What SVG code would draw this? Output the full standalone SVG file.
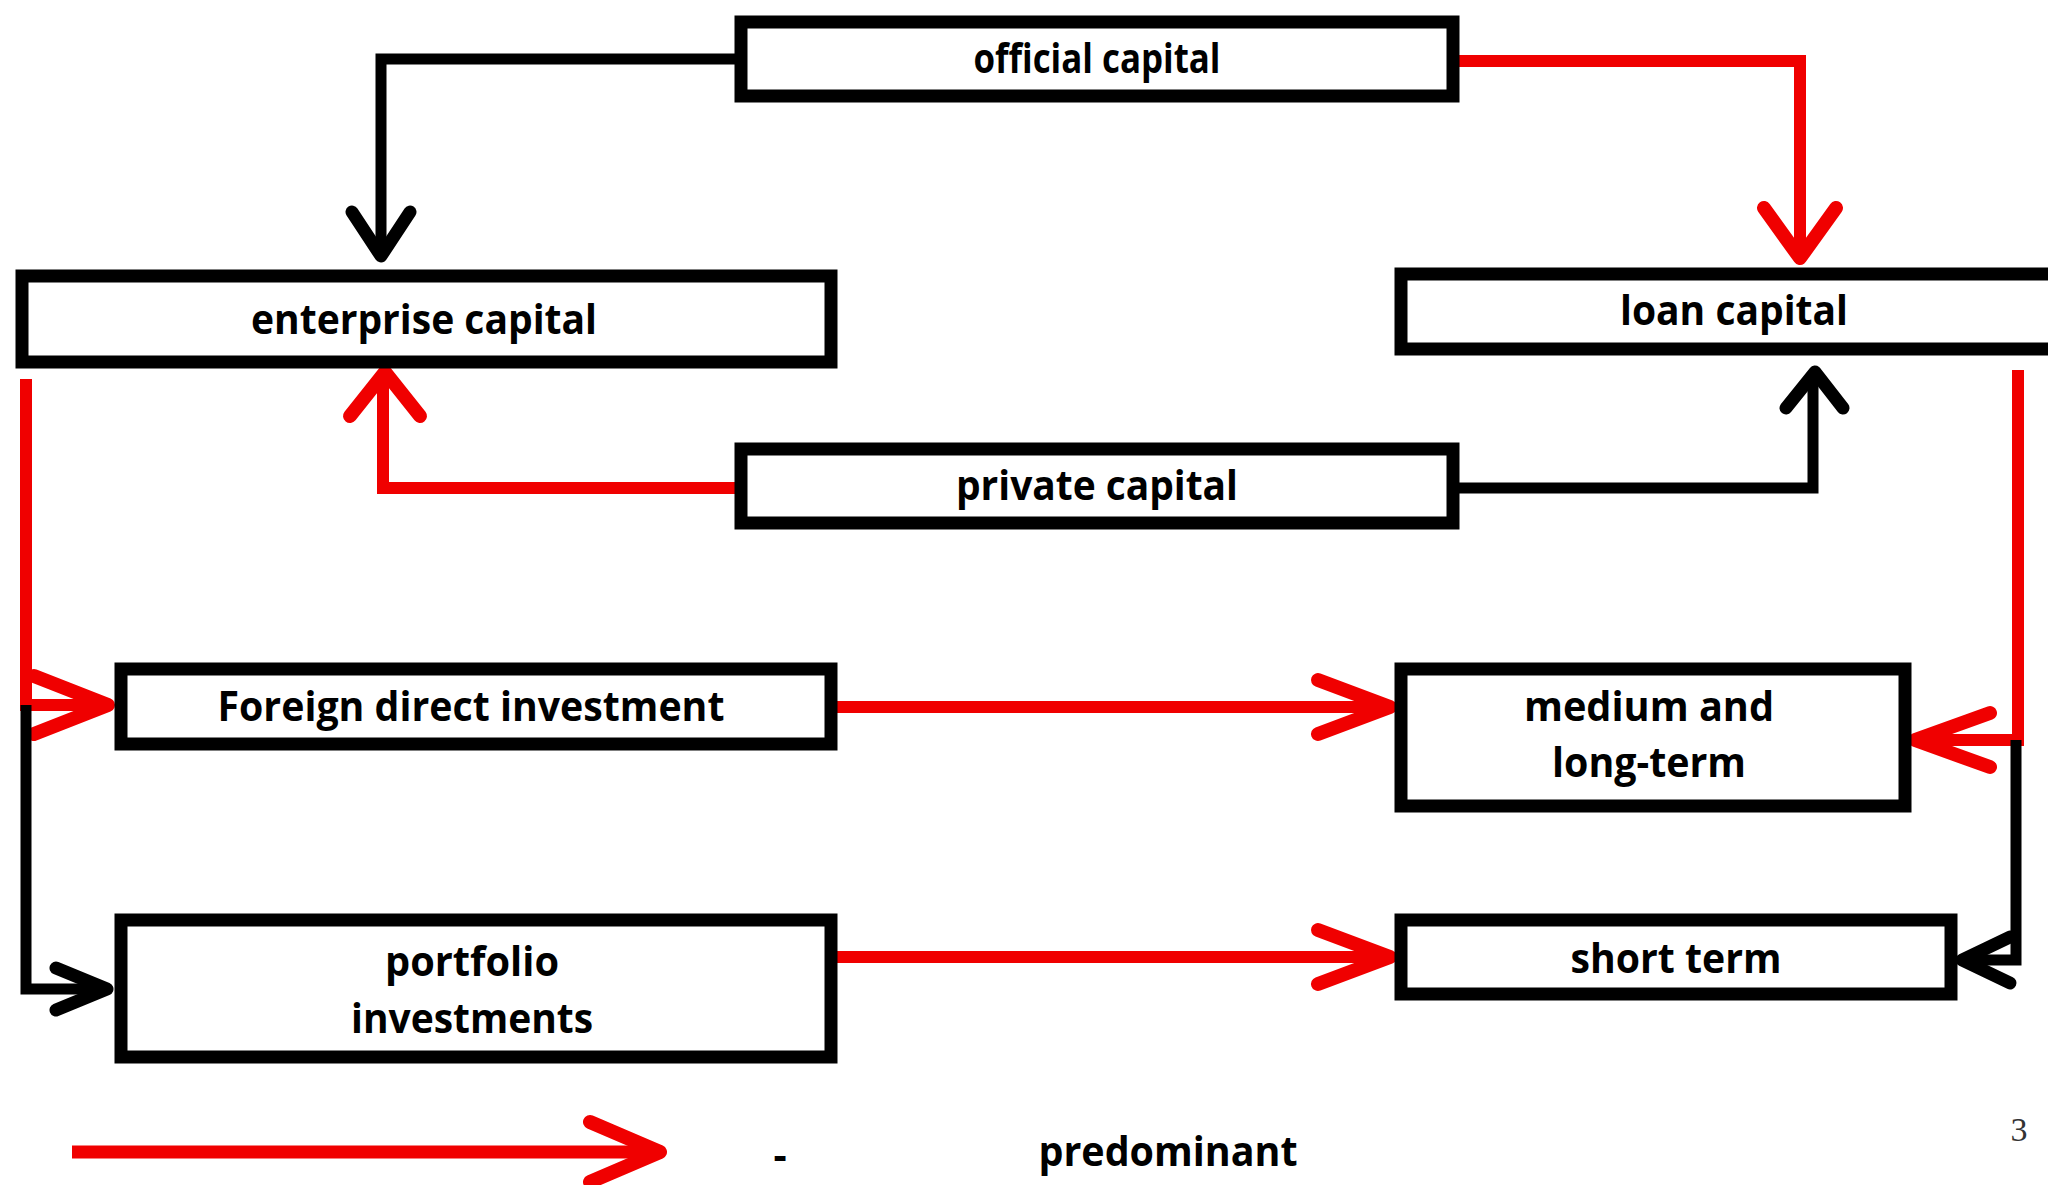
<svg xmlns="http://www.w3.org/2000/svg" width="2048" height="1185" viewBox="0 0 2048 1185">
<style>
.box{fill:#fff;stroke:#000;stroke-width:13}
.lbl{font-family:"Open Sans","Noto Sans",Lato,sans-serif;font-weight:bold;font-size:41px;fill:#000;text-anchor:middle}
.r{fill:none;stroke:#f00000;stroke-width:12;stroke-linecap:butt;stroke-linejoin:miter}
.k{fill:none;stroke:#000;stroke-width:11;stroke-linecap:butt;stroke-linejoin:miter}
.rh{fill:none;stroke:#f00000;stroke-width:14;stroke-linecap:round;stroke-linejoin:round}
.kh{fill:none;stroke:#000;stroke-width:13;stroke-linecap:round;stroke-linejoin:round}
</style>
<rect width="2048" height="1185" fill="#fff"/>
<g id="connectors">
<path class="k" d="M735,59 H381 V255"/>
<path class="kh" d="M352,212 L381,256 L410,212"/>
<path class="r" d="M1459,61 H1800 V256"/>
<path class="rh" d="M1764,208 L1800,258 L1836,208"/>
<path class="r" d="M735,488 H383 V372"/>
<path class="rh" d="M350,416 L385,372 L420,416"/>
<path class="k" d="M1459,488 H1813 V372"/>
<path class="kh" d="M1786,408 L1815,372 L1843,408"/>
<path class="r" d="M26,379 V705 H108"/>
<path class="rh" d="M34,676 L108,705 L34,734"/>
<path class="k" d="M26,705 V989 H107"/>
<path class="kh" d="M56,968 L107,989 L56,1010"/>
<path class="r" d="M837,707 H1390"/>
<path class="rh" d="M1318,680 L1390,707 L1318,734"/>
<path class="r" d="M837,957 H1390"/>
<path class="rh" d="M1318,930 L1390,957 L1318,984"/>
<path class="r" d="M2018,370 V740 H1915"/>
<path class="rh" d="M1990,713 L1915,740 L1990,767"/>
<path class="k" d="M2016,740 V960 H1962"/>
<path class="kh" d="M2010,937 L1962,960 L2010,983"/>
</g>
<g id="official"><rect class="box" x="741" y="22" width="712" height="74"/><text class="lbl" x="1097" y="73" textLength="247" lengthAdjust="spacingAndGlyphs">official capital</text></g>
<g id="enterprise"><rect class="box" x="22" y="276" width="809" height="86"/><text class="lbl" x="424" y="334" textLength="346" lengthAdjust="spacingAndGlyphs">enterprise capital</text></g>
<g id="loan"><rect class="box" x="1401" y="274" width="700" height="75"/><text class="lbl" x="1734" y="325" textLength="228" lengthAdjust="spacingAndGlyphs">loan capital</text></g>
<g id="private"><rect class="box" x="741" y="449" width="712" height="74"/><text class="lbl" x="1097" y="500" textLength="282" lengthAdjust="spacingAndGlyphs">private capital</text></g>
<g id="fdi"><rect class="box" x="121" y="669" width="710" height="75"/><text class="lbl" x="471" y="721" textLength="507" lengthAdjust="spacingAndGlyphs">Foreign direct investment</text></g>
<g id="medium"><rect class="box" x="1401" y="669" width="504" height="137"/><text class="lbl" x="1649" y="721" textLength="250" lengthAdjust="spacingAndGlyphs">medium and</text><text class="lbl" x="1649" y="777" textLength="194" lengthAdjust="spacingAndGlyphs">long-term</text></g>
<g id="portfolio"><rect class="box" x="121" y="920" width="710" height="137"/><text class="lbl" x="472" y="976" textLength="174" lengthAdjust="spacingAndGlyphs">portfolio</text><text class="lbl" x="472" y="1033" textLength="242" lengthAdjust="spacingAndGlyphs">investments</text></g>
<g id="short"><rect class="box" x="1401" y="920" width="550" height="74"/><text class="lbl" x="1676" y="973" textLength="211" lengthAdjust="spacingAndGlyphs">short term</text></g>
<g id="legend">
<path class="r" d="M72,1152 H655" style="stroke-width:13"/>
<path class="rh" d="M590,1122 L660,1152 L590,1182"/>
<text class="lbl" x="780" y="1170">-</text>
<text class="lbl" x="1168" y="1166" textLength="259" lengthAdjust="spacingAndGlyphs">predominant</text>
<text x="2019" y="1141" font-family="Liberation Serif,serif" font-size="34" text-anchor="middle" fill="#333">3</text>
</g>
</svg>
